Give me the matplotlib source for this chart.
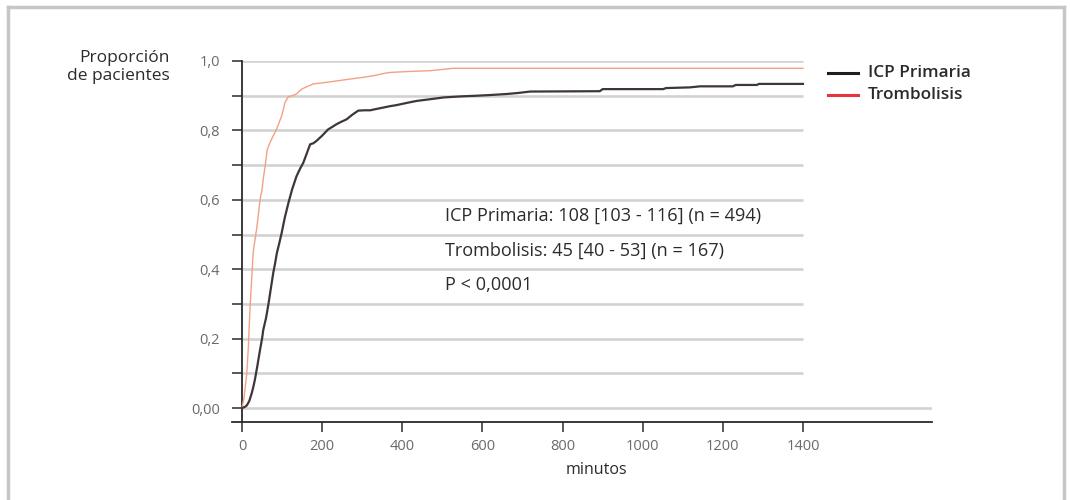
import matplotlib.pyplot as plt
from matplotlib.lines import Line2D

plt.rcParams['font.family'] = ['Open Sans', 'DejaVu Sans']

# curvas acumuladas (minutos, proporcion)
icp_t = [0, 8, 12, 18, 24, 28, 32, 38, 45, 50, 53, 60, 66, 72, 78, 83, 87, 93, 99, 107,
         116, 125, 136, 145, 153, 162, 170, 178, 186, 200, 215, 225, 236, 248, 261, 275,
         290, 305, 320, 336, 353, 370, 386, 410, 436, 470, 503, 545, 586, 620, 661, 690,
         719, 893, 900, 1051, 1058, 1118, 1143, 1225, 1232, 1285, 1290, 1400]
icp_p = [0, 0.004, 0.008, 0.02, 0.042, 0.06, 0.081, 0.12, 0.168, 0.20, 0.225, 0.26, 0.30,
         0.345, 0.39, 0.42, 0.447, 0.475, 0.505, 0.55, 0.592, 0.63, 0.668, 0.69, 0.707,
         0.735, 0.76, 0.763, 0.77, 0.785, 0.803, 0.81, 0.818, 0.825, 0.832, 0.845, 0.857,
         0.858, 0.858, 0.862, 0.866, 0.87, 0.873, 0.879, 0.885, 0.89, 0.895, 0.898, 0.90,
         0.902, 0.905, 0.908, 0.912, 0.913, 0.919, 0.919, 0.922, 0.924, 0.927, 0.927,
         0.931, 0.931, 0.934, 0.934]

trom_t = [0, 5, 8, 12, 16, 20, 24, 28, 33, 37, 41, 45, 50, 53, 58, 63, 70, 78, 85, 91, 95,
          99, 103, 107, 112, 116, 125, 136, 142, 149, 160, 178, 200, 220, 245, 270, 303,
          330, 353, 369, 420, 469, 527, 1400]
trom_p = [0, 0.03, 0.06, 0.10, 0.18, 0.29, 0.37, 0.45, 0.49, 0.52, 0.56, 0.60, 0.63, 0.66,
          0.70, 0.745, 0.765, 0.785, 0.80, 0.818, 0.83, 0.842, 0.86, 0.88, 0.89, 0.897,
          0.90, 0.905, 0.912, 0.919, 0.925, 0.934, 0.937, 0.94, 0.944, 0.948, 0.953, 0.958,
          0.964, 0.967, 0.97, 0.972, 0.979, 0.979]

y_major = [0.0, 0.2, 0.4, 0.6, 0.8, 1.0]
y_labels = ['0,00', '0,2', '0,4', '0,6', '0,8', '1,0']
y_minor = [0.1, 0.3, 0.5, 0.7, 0.9]
x_ticks = [0, 200, 400, 600, 800, 1000, 1200, 1400]

grey = '#6a6a6a'
dark = '#2b2b2b'

fig = plt.figure(figsize=(10.7, 5), dpi=100)
ax = fig.add_axes([232 / 1070, 78 / 500, 700 / 1070, 361 / 500])
ax.set_xlim(-25, 1722)
ax.set_ylim(-0.04, 1.0)

# lineas horizontales de referencia
grid_y = [0.1, 0.2, 0.3, 0.4, 0.5, 0.6, 0.7, 0.8, 0.9, 1.0]
ax.hlines(grid_y, 0, 1400, color='#d2d2d2', lw=1.9, zorder=1)
ax.hlines([0.0], 0, 1722, color='#d2d2d2', lw=1.9, zorder=1)

ax.plot(trom_t, trom_p, color='#f4a083', lw=1.0, zorder=3)
ax.plot(icp_t, icp_p, color='#3f3737', lw=1.6, zorder=4)

for s in ['top', 'right']:
    ax.spines[s].set_visible(False)
ax.spines['left'].set_position(('data', 0))
ax.spines['left'].set_bounds(-0.04, 1.0)
for s in ['left', 'bottom']:
    ax.spines[s].set_color(dark)
    ax.spines[s].set_linewidth(1.3)

ax.set_yticks(y_major)
ax.set_yticklabels(y_labels)
ax.set_yticks(y_minor, minor=True)
ax.tick_params(axis='y', which='both', length=7, width=1.1, color=dark,
               labelsize=10.5, labelcolor=grey, pad=9)
ax.set_xticks(x_ticks)
ax.set_xticklabels([str(v) for v in x_ticks])
ax.tick_params(axis='x', length=7, width=1.1, color=dark, labelsize=10.5,
               labelcolor=grey, pad=5)

fig.text(170 / 1070, 1 - 67 / 500, 'Proporción\nde pacientes', ha='right', va='center',
         fontsize=12.5, color=dark, linespacing=1.2)
fig.text(596 / 1070, 1 - 470 / 500, 'minutos', ha='center', va='center',
         fontsize=11.5, color=dark)

ann = ['ICP Primaria: 108 [103 - 116] (n = 494)',
       'Trombolisis: 45 [40 - 53] (n = 167)',
       'P < 0,0001']
for txt, yy in zip(ann, [216, 251, 285]):
    fig.text(445 / 1070, 1 - yy / 500, txt, ha='left', va='center', fontsize=13.1, color=dark)

# leyenda
for lbl, col, yy in [('ICP Primaria', '#1e1e1e', 73), ('Trombolisis', '#e8343a', 95)]:
    fig.add_artist(Line2D([828 / 1070, 858 / 1070], [1 - yy / 500, 1 - yy / 500],
                          color=col, lw=2.2))
    fig.text(868 / 1070, 1 - yy / 500, lbl, ha='left', va='center', fontsize=12.4,
             color=dark, fontweight='semibold')

# marco gris
frame = '#c6c6c6'
fig.add_artist(Line2D([8 / 1070, 8 / 1070], [0, 1 - 7 / 500], color=frame, lw=2.5))
fig.add_artist(Line2D([8 / 1070, 1064 / 1070], [1 - 7 / 500, 1 - 7 / 500], color=frame, lw=2.5))
fig.add_artist(Line2D([1064 / 1070, 1064 / 1070], [0, 1 - 7 / 500], color=frame, lw=2.5))

fig.savefig('out.png', dpi=100)
